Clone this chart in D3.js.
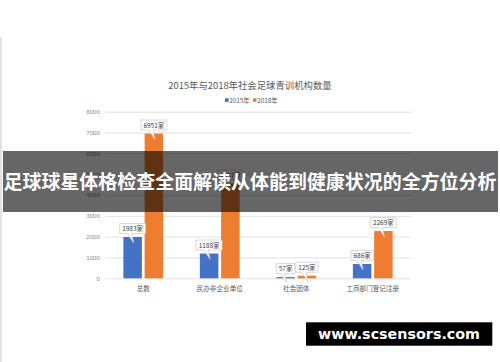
<!DOCTYPE html>
<html>
<head>
<meta charset="utf-8">
<script src="https://cdn.jsdelivr.net/npm/d3@7/dist/d3.min.js"></script>
<style>
  html, body { margin: 0; padding: 0; background: #fff; }
  svg { display: block; font-family: "Noto Sans CJK SC", "Noto Sans", sans-serif; }
</style>
</head>
<body>
<div id="chart"></div>
<script>
var w = 500,
    h = 362;

// Data
var categories = ["总数", "民办非企业单位", "社会团体", "工商部门登记注册"];
var seriesNames = ["2015年", "2018年"];
var values2015 = [1983, 1188, 57, 686];
var values2018 = [6951, 4557, 125, 2269];
var yTicks = [0, 1000, 2000, 3000, 4000, 5000, 6000, 7000, 8000];
var colors = ["#4472C4", "#ED7D31"];

var chartTitle = "2015年与2018年社会足球青训机构数量";
var bannerText = "足球球星体格检查全面解读从体能到健康状况的全方位分析";
var siteText = "www.scsensors.com";

var svg = d3.select("#chart").append("svg")
  .attr("width", w)
  .attr("height", h);

// thin frame line on the left edge
svg.append("line")
  .attr("x1", 1).attr("x2", 1)
  .attr("y1", 37).attr("y2", h)
  .attr("stroke", "#dadada")
  .attr("stroke-width", 1.5);

// scales
var x0 = d3.scaleBand()
  .domain(categories)
  .range([105, 411])
  .paddingInner(0.48)
  .paddingOuter(0.24);

var x1 = d3.scaleBand()
  .domain(seriesNames)
  .range([0, x0.bandwidth()])
  .paddingInner(0.13);

var y = d3.scaleLinear()
  .domain([0, 8000])
  .range([278.3, 111.7]);

// title
svg.append("text")
  .attr("x", 250)
  .attr("y", 88.5)
  .attr("text-anchor", "middle")
  .attr("font-size", "9.4px")
  .attr("fill", "#595959")
  .text(chartTitle);

// legend
var legend = svg.append("g").attr("class", "legend");
var legX = [225, 253];
seriesNames.forEach(function(s, i) {
  legend.append("rect")
    .attr("x", legX[i])
    .attr("y", 98.3)
    .attr("width", 3.6)
    .attr("height", 3.6)
    .attr("fill", colors[i]);
  legend.append("text")
    .attr("x", legX[i] + 4.2)
    .attr("y", 102.6)
    .attr("font-size", "6.4px")
    .attr("fill", "#595959")
    .text(s);
});

// grid + y axis
var yAxis = d3.axisLeft(y)
  .tickValues(yTicks)
  .tickSize(-(411 - 105))
  .tickPadding(5)
  .tickFormat(d3.format("d"));

var gy = svg.append("g")
  .attr("transform", "translate(105,0)")
  .call(yAxis);
gy.select(".domain").remove();
gy.selectAll(".tick line")
  .attr("stroke", "#d9d9d9")
  .attr("stroke-width", 0.8);
gy.selectAll(".tick text")
  .attr("font-size", "6.2px")
  .attr("fill", "#8c8c8c")
  .attr("font-family", "Liberation Sans, Arial, sans-serif");

// x axis labels
var xAxis = d3.axisBottom(x0).tickSize(0).tickPadding(8);
var gx = svg.append("g")
  .attr("transform", "translate(0,278.3)")
  .call(xAxis);
gx.select(".domain").remove();
gx.selectAll(".tick text")
  .attr("font-size", "6.6px")
  .attr("fill", "#595959")
  .attr("font-family", "\"Noto Sans CJK SC\", sans-serif");

// bars
var rows = categories.map(function(c, i) {
  return [
    {cat: c, series: seriesNames[0], value: values2015[i], color: colors[0]},
    {cat: c, series: seriesNames[1], value: values2018[i], color: colors[1]}
  ];
});

var groups = svg.selectAll("g.grp")
  .data(rows)
  .enter().append("g")
  .attr("class", "grp")
  .attr("transform", function(d) { return "translate(" + x0(d[0].cat) + ",0)"; });

groups.selectAll("rect")
  .data(function(d) { return d; })
  .enter().append("rect")
  .attr("x", function(d) { return x1(d.series); })
  .attr("y", function(d) { return y(d.value); })
  .attr("width", x1.bandwidth())
  .attr("height", function(d) { return y(0) - y(d.value); })
  .attr("fill", function(d) { return d.color; });

// callout labels
var callouts = groups.selectAll("g.callout")
  .data(function(d) { return d; })
  .enter().append("g")
  .attr("class", "callout");

callouts.each(function(d) {
  var g = d3.select(this);
  var cx = x1(d.series) + x1.bandwidth() / 2;
  var top = y(d.value);
  var label = d.value + "家";
  var t = g.append("text")
    .attr("x", cx)
    .attr("y", top - 5.8)
    .attr("text-anchor", "middle")
    .attr("font-size", "6.5px")
    .attr("fill", "#404040")
    .text(label);
  var bw = t.node().getComputedTextLength() + 5;
  var bh = 10;
  var bx = cx - bw / 2, by = top - 3.5 - bh;
  var tipX = cx + 1, tipY = top + 6;
  var path = [
    "M", bx, by,
    "L", bx + bw, by,
    "L", bx + bw, by + bh,
    "L", cx - 1, by + bh,
    "L", tipX, tipY,
    "L", cx - 5, by + bh,
    "L", bx, by + bh,
    "Z"
  ].join(" ");
  g.insert("path", "text")
    .attr("d", path)
    .attr("fill", "#fff")
    .attr("stroke", "#c8c8c8")
    .attr("stroke-width", 0.7);
});

// dark banner across the chart
svg.append("rect")
  .attr("x", 3)
  .attr("y", 151)
  .attr("width", 495)
  .attr("height", 61)
  .attr("fill", "rgba(0,0,0,0.6)");

svg.append("text")
  .attr("x", 250)
  .attr("y", 188.5)
  .attr("text-anchor", "middle")
  .attr("font-size", "19px")
  .attr("font-weight", "bold")
  .attr("textLength", 493)
  .attr("lengthAdjust", "spacingAndGlyphs")
  .attr("fill", "#fff")
  .text(bannerText);

// site box
svg.append("rect")
  .attr("x", 306)
  .attr("y", 322.3)
  .attr("width", 186.3)
  .attr("height", 23.4)
  .attr("fill", "#000");

svg.append("text")
  .attr("x", 399)
  .attr("y", 339)
  .attr("text-anchor", "middle")
  .attr("font-size", "14.3px")
  .attr("font-weight", "bold")
  .attr("font-family", "DejaVu Sans, sans-serif")
  .attr("fill", "#fff")
  .text(siteText);
</script>
</body>
</html>
